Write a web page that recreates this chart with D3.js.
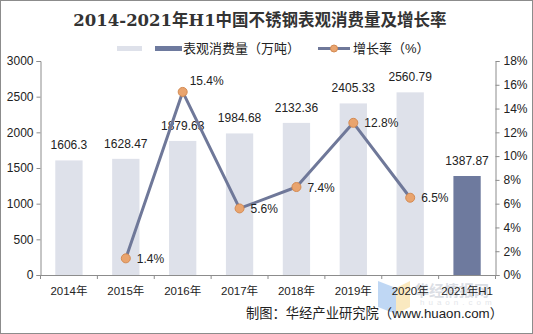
<!DOCTYPE html>
<html><head><meta charset="utf-8">
<script src="https://cdn.jsdelivr.net/npm/d3@7"></script>
<style>
html,body{margin:0;padding:0;background:#fff;}
svg{display:block;}
text{font-family:"Liberation Sans","Noto Sans CJK SC",sans-serif;fill:#222;}
</style></head>
<body>
<svg id="c" width="533" height="334"></svg>
<script>
const categories = ["2014年","2015年","2016年","2017年","2018年","2019年","2020年","2021年H1"];
const consumption = [1606.3,1628.47,1879.63,1984.68,2132.36,2405.33,2560.79,1387.87];
const consumptionLabels = ["1606.3","1628.47","1879.63","1984.68","2132.36","2405.33","2560.79","1387.87"];
const growth = [null,1.4,15.4,5.6,7.4,12.8,6.5,null];
const leftTicks = [0,500,1000,1500,2000,2500,3000];
const rightTicks = [0,2,4,6,8,10,12,14,16,18];
const titleText = "2014-2021年H1中国不锈钢表观消费量及增长率";
const legendBarLabel = "表观消费量（万吨）";
const legendLineLabel = "增长率（%）";
const sourceText = "制图：华经产业研究院（www.huaon.com）";

const svg = d3.select("#c");
const W = 533, H = 334;
const m = {l:40.5, r:495.5, t:61, b:275};

svg.append("rect").attr("x",0.5).attr("y",0.5).attr("width",W-1).attr("height",H-1)
  .attr("fill","#fff").attr("stroke","#8c8c8c");

const x = d3.scaleBand().domain(categories).range([m.l,m.r]).paddingInner(0.52).paddingOuter(0.26);
const yL = d3.scaleLinear().domain([0,3000]).range([m.b,m.t]);
const yR = d3.scaleLinear().domain([0,18]).range([m.b,m.t]);

// watermark
const wm = svg.append("g").attr("opacity",0.35);
wm.append("path").attr("d","M 378 281 L 396 288 L 396 314 L 378 307 Z").attr("fill","#4a90e2");
wm.append("path").attr("d","M 396 288 L 410 281 L 410 307 L 396 314 Z").attr("fill","#f2c14e");
wm.append("text").attr("x",414).attr("y",296).attr("font-size",15).attr("font-weight","bold")
  .style("fill","#9aa3b5").text("华经情报网");
wm.append("text").attr("x",420).attr("y",305).attr("font-size",8).attr("letter-spacing","4px")
  .style("fill","#b0b6c4").text("huaon.com");

// bars
svg.append("g").selectAll("rect").data(consumption).join("rect")
  .attr("x",(d,i)=>x(categories[i]))
  .attr("y",d=>yL(d))
  .attr("width",x.bandwidth())
  .attr("height",d=>yL(0)-yL(d))
  .attr("fill",(d,i)=>i===categories.length-1?"#6e7a9e":"#dee1ea");

// axes
const axL = svg.append("g").attr("transform",`translate(${m.l},0)`)
  .call(d3.axisLeft(yL).tickValues(leftTicks).tickSize(4).tickPadding(3).tickFormat(d3.format("d")));
const axR = svg.append("g").attr("transform",`translate(${m.r},0)`)
  .call(d3.axisRight(yR).tickValues(rightTicks).tickSize(4).tickPadding(4).tickFormat(d=>d+"%"));
const axB = svg.append("g").attr("transform",`translate(0,${m.b})`)
  .call(d3.axisBottom(x).tickSize(0).tickPadding(12));
[axL,axR,axB].forEach(a=>{
  a.selectAll("path.domain").attr("stroke","#8c8c8c");
  a.selectAll(".tick line").attr("stroke","#8c8c8c");
  a.selectAll("text").attr("font-size",12).style("fill","#222")
    .style("font-family",'"Liberation Sans","Noto Sans CJK SC",sans-serif');
});
axB.selectAll("text").attr("font-size",11.5);
const bounds = d3.range(categories.length+1).map(i=>m.l + i*(m.r-m.l)/categories.length);
svg.append("g").selectAll("line").data(bounds).join("line")
  .attr("x1",d=>d).attr("x2",d=>d).attr("y1",m.b).attr("y2",m.b+4)
  .attr("stroke","#8c8c8c");

// bar labels
svg.append("g").selectAll("text").data(consumption).join("text")
  .attr("x",(d,i)=>x(categories[i])+x.bandwidth()/2)
  .attr("y",d=>yL(d)-11)
  .attr("text-anchor","middle").attr("font-size",12)
  .text((d,i)=>consumptionLabels[i]);

// line
const pts = growth.map((g,i)=>({g,i})).filter(d=>d.g!==null);
const cx = d=>x(categories[d.i])+x.bandwidth()/2;
svg.append("path").datum(pts)
  .attr("d",d3.line().x(cx).y(d=>yR(d.g)))
  .attr("fill","none").attr("stroke","#6f7899").attr("stroke-width",3).attr("stroke-linejoin","round");
svg.append("g").selectAll("circle").data(pts).join("circle")
  .attr("cx",cx).attr("cy",d=>yR(d.g)).attr("r",4.5)
  .attr("fill","#e9a46e").attr("stroke","#d48b53").attr("stroke-width",1);
svg.append("g").selectAll("text").data(pts).join("text")
  .attr("x",d=>cx(d)+(d.g===15.4?7:11))
  .attr("y",d=>yR(d.g)+(d.g===15.4?-7:4.5))
  .attr("font-size",12)
  .text(d=>d.g.toFixed(1)+"%");

// title
svg.append("text").attr("x",260).attr("y",26).attr("text-anchor","middle")
  .attr("font-size",16.5).attr("font-weight","bold")
  .style("font-family",'"DejaVu Serif","Noto Sans CJK SC",serif').style("fill","#333")
  .text(titleText);

// legend
const lg = svg.append("g");
lg.append("rect").attr("x",117).attr("y",46).attr("width",25).attr("height",5).attr("fill","#dee1ea");
lg.append("rect").attr("x",155).attr("y",46).attr("width",27).attr("height",5).attr("fill","#6e7a9e");
lg.append("text").attr("x",183).attr("y",53).attr("font-size",13).text(legendBarLabel);
lg.append("line").attr("x1",318).attr("x2",350).attr("y1",48.5).attr("y2",48.5)
  .attr("stroke","#6f7899").attr("stroke-width",3);
lg.append("circle").attr("cx",334).attr("cy",48.5).attr("r",3.5)
  .attr("fill","#e9a46e").attr("stroke","#d48b53");
lg.append("text").attr("x",353).attr("y",53).attr("font-size",13).text(legendLineLabel);

// source
svg.append("text").attr("x",503).attr("y",318).attr("text-anchor","end")
  .attr("font-size",13.3).text(sourceText);
</script>
</body></html>
